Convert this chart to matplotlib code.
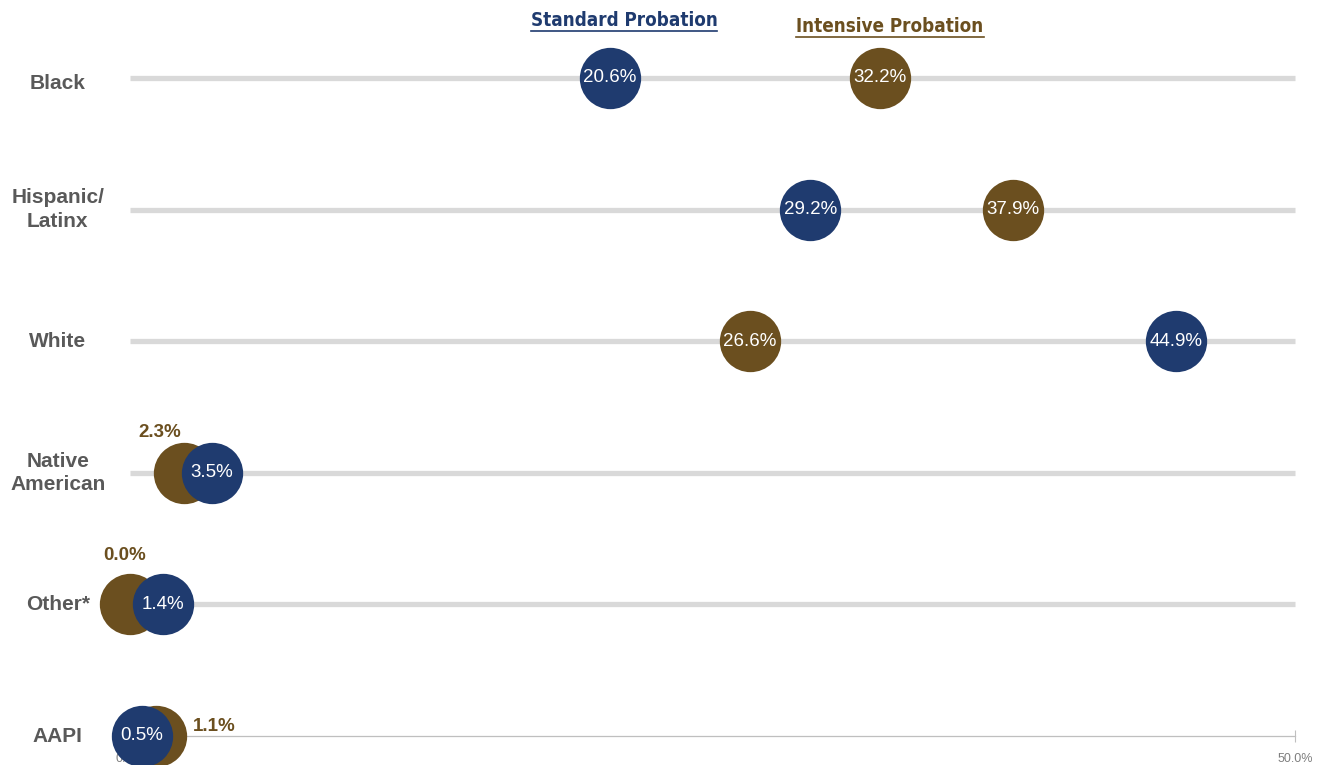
import matplotlib
matplotlib.use("Agg")
import matplotlib.pyplot as plt
from matplotlib.lines import Line2D

categories = ["Black", "Hispanic/\nLatinx", "White", "Native\nAmerican", "Other*", "AAPI"]
standard = [20.6, 29.2, 44.9, 3.5, 1.4, 0.5]
intensive = [32.2, 37.9, 26.6, 2.3, 0.0, 1.1]
series_names = ["Standard Probation", "Intensive Probation"]
xtick_vals = [0, 50]
xtick_labels = ["0.0%", "50.0%"]

# label offsets (points) for intensive labels that would collide with standard circles
outside_label_offsets = {"Native\nAmerican": (-17, 29), "Other*": (-4, 35), "AAPI": (27, 7)}

NAVY = "#1f3b6f"
BROWN = "#6b4f1f"
GRAY_TXT = "#595959"
LINE = "#d9d9d9"

W, H = 1317, 765
fig = plt.figure(figsize=(W / 100, H / 100), dpi=100)
ax = fig.add_axes([130 / W, (H - 736) / H, (1295 - 130) / W, (736 - 78) / H])
ax.set_xlim(0, 50)
ax.set_ylim(0, 5)

n = len(categories)
ys = [n - 1 - i for i in range(n)]

for i, y in enumerate(ys):
    if y > 0:
        ax.plot([0, 50], [y, y], color=LINE, lw=3.8, solid_capstyle="butt", zorder=1, clip_on=False)

S = 1950
for i, y in enumerate(ys):
    ax.scatter(intensive[i], y, s=S, color=BROWN, zorder=3, clip_on=False, linewidths=0)
    ax.scatter(standard[i], y, s=S, color=NAVY, zorder=4, clip_on=False, linewidths=0)
    ax.text(standard[i], y, f"{standard[i]:.1f}%", color="white", ha="center", va="center",
            fontsize=13.5, fontfamily="Liberation Sans", zorder=6)
    cat = categories[i]
    if cat in outside_label_offsets:
        dx, dy = outside_label_offsets[cat]
        ax.annotate(f"{intensive[i]:.1f}%", (intensive[i], y), xytext=(dx, dy), textcoords="offset points",
                    color=BROWN, ha="left" if dx > 20 else "center", va="center", fontsize=13.5,
                    fontweight="bold", fontfamily="Liberation Sans", zorder=6)
    else:
        ax.text(intensive[i], y, f"{intensive[i]:.1f}%", color="white", ha="center", va="center",
                fontsize=13.5, fontfamily="Liberation Sans", zorder=6)

for i, y in enumerate(ys):
    ax.annotate(categories[i], (0, y), xytext=(-52, -4 if i == 0 else 0), textcoords="offset points",
                ha="center", va="center", fontsize=15, fontweight="bold",
                color=GRAY_TXT, fontfamily="Liberation Sans", linespacing=1.3)

for s in ["top", "right", "left"]:
    ax.spines[s].set_visible(False)
ax.spines["bottom"].set_color("#bfbfbf")
ax.spines["bottom"].set_linewidth(0.9)
ax.set_yticks([])
ax.set_xticks(xtick_vals)
ax.set_xticklabels(xtick_labels, fontsize=9, color="#7f7f7f", fontfamily="Liberation Sans")
ax.tick_params(axis="x", direction="inout", length=8, color="#bfbfbf", pad=8)
ax.get_xticklabels()[0].set_zorder(0)

t1 = fig.text(624 / W, 1 - 20 / H, series_names[0], ha="center", va="center", fontsize=13.5,
              fontweight="bold", fontstretch="condensed", color=NAVY, fontfamily="DejaVu Sans")
t2 = fig.text(890 / W, 1 - 26 / H, series_names[1], ha="center", va="center", fontsize=13.5,
              fontweight="bold", fontstretch="condensed", color=BROWN, fontfamily="DejaVu Sans")
fig.canvas.draw()
r = fig.canvas.get_renderer()
for t, c in [(t1, NAVY), (t2, BROWN)]:
    bb = t.get_window_extent(r)
    yy = bb.y0 - 1
    fig.add_artist(Line2D([bb.x0 / W, bb.x1 / W], [yy / H, yy / H], color=c, lw=1.2,
                          transform=fig.transFigure))

fig.savefig("out.png", dpi=100, facecolor="white")
